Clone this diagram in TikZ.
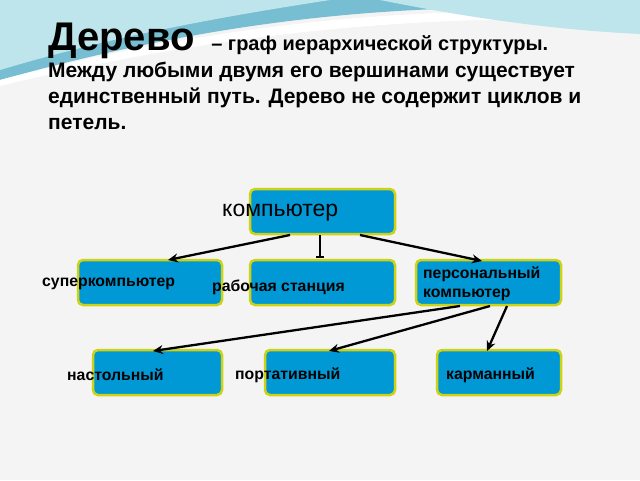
\documentclass[tikz,border=0pt]{standalone}
\usepackage{fontspec}
\setmainfont{Liberation Sans}
\usetikzlibrary{arrows.meta}
\definecolor{boxblue}{RGB}{0,153,214}
\definecolor{boxedge}{RGB}{205,210,20}
\definecolor{bg}{RGB}{244,244,244}
\definecolor{wave1}{RGB}{120,190,210}
\definecolor{wave2}{RGB}{190,228,236}
\tikzset{
  bx/.style={draw=boxedge,line width=2.5pt,fill=boxblue,rounded corners=5pt},
  lbl/.style={font=\bfseries\fontsize{15.8}{18}\selectfont,anchor=west,inner sep=0pt,align=left},
  ar/.style={line width=2.3pt,-{Stealth[length=10pt,width=9pt]}}
}
\begin{document}
\begin{tikzpicture}[x=1pt,y=-1pt]
\useasboundingbox (0,0) rectangle (640,480);
\fill[bg] (0,0) rectangle (640,480);
% waves
\fill[wave1] (0,0) -- (640,0) -- (640,12) .. controls (450,0) and (250,10) .. (0,80) -- cycle;
\fill[wave2] (0,0) -- (330,0) .. controls (200,20) and (100,40) .. (0,70) -- cycle;
\fill[white] (0,80) .. controls (250,15) and (450,5) .. (640,14) -- (640,20) .. controls (450,15) and (250,25) .. (0,86) -- cycle;
\fill[wave2] (380,0) .. controls (480,20) and (560,30) .. (640,34) -- (640,0) -- cycle;
% title
\node[anchor=base west,inner sep=0pt] (t1) at (48,50) {\fontsize{40}{44}\selectfont\bfseries Дерево \fontsize{20}{22}\selectfont\ \textendash\ граф иерархической структуры.};
\node[anchor=north west,inner sep=0pt,align=left,font=\bfseries\fontsize{21}{26}\selectfont] (t2) at (48,62) {Между любыми двумя его вершинами существует\\единственный путь. Дерево не содержит циклов и\\петель.};
% boxes
\draw[bx] (250,189) rectangle (395,234);
\draw[bx] (78,260) rectangle (222,305);
\draw[bx] (250,260) rectangle (395,305);
\draw[bx] (416,260) rectangle (561,305);
\draw[bx] (93,350) rectangle (222,395);
\draw[bx] (265,350) rectangle (395,395);
\draw[bx] (437,350) rectangle (561,395);
% labels
\node[anchor=west,inner sep=0pt,font=\fontsize{23}{25}\selectfont] (lc) at (222,213) {компьютер};
\node[lbl] (ls) at (42,284) {суперкомпьютер};
\node[lbl] (lw) at (212,287) {рабочая станция};
\node[lbl,font=\bfseries\fontsize{15.8}{19}\selectfont] (lp) at (423,284) {персональный\\компьютер};
\node[lbl] (ln) at (67,375) {настольный};
\node[lbl] (lpo) at (235,375) {портативный};
\node[lbl] (lk) at (446,375) {карманный};
% connectors
\coordinate (c1) at (290,235); \coordinate (s1) at (168,260);
\coordinate (c2) at (320,235); \coordinate (w1) at (320,258);
\coordinate (c3) at (360,235); \coordinate (p1) at (482,261);
\coordinate (p2) at (460,306); \coordinate (n1) at (153,351);
\coordinate (p3) at (490,306); \coordinate (po1) at (329,351);
\coordinate (p4) at (507,306); \coordinate (k1) at (487,351);
\draw[ar] (c1) -- (s1);
\draw[line width=2.3pt,-{Bar[width=8pt]}] (c2) -- (w1);
\draw[ar] (c3) -- (p1);
\draw[ar] (p2) -- (n1);
\draw[ar] (p3) -- (po1);
\draw[ar] (p4) -- (k1);
\end{tikzpicture}
\end{document}
